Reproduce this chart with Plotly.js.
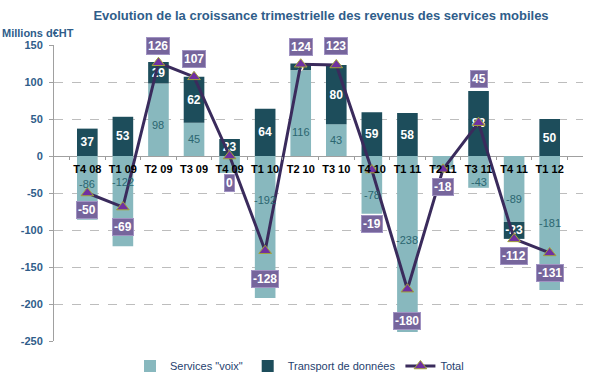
<!DOCTYPE html>
<html>
<head>
<meta charset="utf-8">
<script src="https://cdn.plot.ly/plotly-3.0.1.min.js"></script>
<style>
html,body{margin:0;padding:0;background:#fff;}
#chart{width:599px;height:377px;}
</style>
</head>
<body>
<div id="chart"></div>
<script>
// ---- data ----
const quarters = ['T4 08','T1 09','T2 09','T3 09','T4 09','T1 10','T2 10','T3 10','T4 10','T1 11','T2 11','T3 11','T4 11','T1 12'];
const voix     = [-86, -122, 98, 45, -23, -192, 116, 43, -78, -238, -18, -43, -89, -181];
const donnees  = [37, 53, 29, 62, 23, 64, 9, 80, 59, 58, 0, 88, -23, 50];
const total    = [-50, -69, 126, 107, 0, -128, 124, 123, -19, -180, -18, 45, -112, -131];
const yTicks   = [150, 100, 50, 0, -50, -100, -150, -200, -250];
const hiddenVoixLabels = ['T4 09', 'T2 11'];

// label placement (pixels below the anchor; negative = above)
const totalLabelShift = [17, 20, -17, -18, 27, 28, -17, -19, 54, 32, 18, -44, 17, 20];
const voixLabelShift  = [-4, -19, 5, 0, 0, -27, 19, 0, 10, -4, 0, 10, 10, 0];

const FONT = 'Liberation Sans, Arial, sans-serif';
const BLUE = '#2f5d8a';

const dataText = donnees.map(v => v === 0 ? '' : String(v));

const traces = [
  {
    type: 'bar', name: 'Services "voix"', x: quarters, y: voix,
    marker: {color: '#88b8be'},
    hoverinfo: 'x+y'
  },
  {
    type: 'bar', name: 'Transport de données', x: quarters, y: donnees,
    marker: {color: '#1d4d5b'},
    text: dataText, textposition: 'inside', insidetextanchor: 'middle',
    constraintext: 'none', textangle: 0,
    textfont: {family: FONT, size: 12, color: '#ffffff', weight: 'bold'},
    hoverinfo: 'x+y'
  },
  {
    type: 'scatter', mode: 'lines+markers', name: 'Total', x: quarters, y: total,
    line: {color: '#3a2b5c', width: 3},
    marker: {symbol: 'triangle-up', size: 11, color: '#7030a0', line: {color: '#a3a33a', width: 1}},
    hoverinfo: 'x+y'
  }
];

const annotations = [];
voix.forEach((v, i) => {
  if (hiddenVoixLabels.includes(quarters[i])) return;
  annotations.push({
    x: quarters[i], y: v / 2, xref: 'x', yref: 'y',
    text: String(v), showarrow: false, yshift: -voixLabelShift[i],
    font: {family: FONT, size: 11, color: '#2b6670'}
  });
});
total.forEach((v, i) => {
  annotations.push({
    x: quarters[i], y: v, xref: 'x', yref: 'y',
    text: '<b>' + v + '</b>', showarrow: false, yshift: -totalLabelShift[i],
    font: {family: FONT, size: 12, color: '#ffffff'},
    bgcolor: '#76659c', bordercolor: '#a092c2', borderwidth: 1, borderpad: 1
  });
});
annotations.push({
  xref: 'paper', yref: 'paper', x: -54/529, y: 1 + 12/296, xanchor: 'left', yanchor: 'middle',
  text: '<b>Millions d€HT</b>', showarrow: false,
  font: {family: FONT, size: 11, color: BLUE}
});

const layout = {
  width: 599, height: 377,
  margin: {l: 54, r: 16, t: 45, b: 36, autoexpand: false},
  paper_bgcolor: '#ffffff', plot_bgcolor: '#ffffff',
  barmode: 'relative', bargap: 0.42,
  showlegend: true,
  title: {
    text: '<b>Evolution de la croissance trimestrielle des revenus des services mobiles</b>',
    x: 321/599, xanchor: 'center', y: 1 - 15/377, yanchor: 'middle',
    font: {family: FONT, size: 13, color: BLUE}
  },
  xaxis: {
    type: 'category', anchor: 'free', position: 0.625,
    showline: false, showgrid: false, zeroline: false,
    ticks: 'outside', tickson: 'boundaries', ticklen: 3, tickcolor: '#9a9a9a',
    tickangle: 0, ticklabelstandoff: 5,
    tickfont: {family: FONT, size: 11, color: '#000000', weight: 'bold'},
    layer: 'above traces', fixedrange: true
  },
  yaxis: {
    range: [-250, 150], tickvals: yTicks, ticktext: yTicks.map(String),
    showline: true, linecolor: '#a0a0a0', linewidth: 1,
    ticks: 'outside', ticklen: 4, tickcolor: '#a0a0a0', ticklabelstandoff: 4,
    showgrid: true, gridcolor: '#bdbdbd', griddash: 'dash', gridwidth: 1,
    zeroline: true, zerolinecolor: '#a0a0a0', zerolinewidth: 1,
    tickfont: {family: FONT, size: 11, color: BLUE, weight: 'bold'},
    fixedrange: true
  },
  legend: {
    orientation: 'h', x: (299.5 - 54) / 529, xanchor: 'center', y: -25/296, yanchor: 'middle',
    font: {family: FONT, size: 11, color: '#1f3f6f'},
    bgcolor: 'rgba(0,0,0,0)', traceorder: 'normal'
  },
  annotations: annotations
};

Plotly.newPlot('chart', traces, layout, {displayModeBar: false, staticPlot: true});
</script>
</body>
</html>
